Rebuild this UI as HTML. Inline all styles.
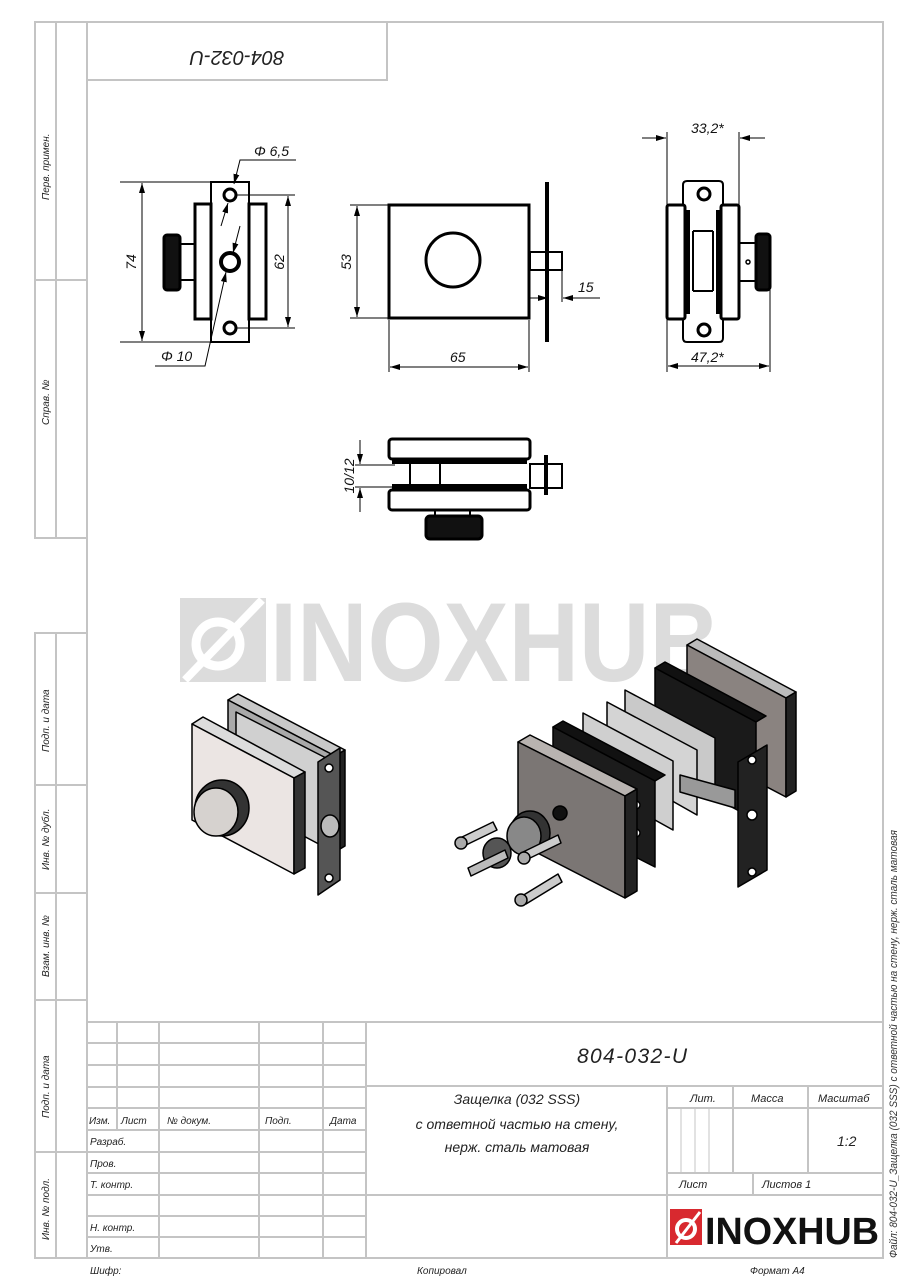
<!DOCTYPE html>
<html><head><meta charset="utf-8"><style>
html,body{margin:0;padding:0;background:#fff}
svg{display:block}
text{font-family:"Liberation Sans","DejaVu Sans",sans-serif;font-style:italic}
.up{font-style:normal}
</style></head><body>
<svg width="905" height="1280" viewBox="0 0 905 1280" xmlns="http://www.w3.org/2000/svg">
<defs>
<marker id="a" viewBox="0 0 10 6" refX="10" refY="3" markerWidth="10" markerHeight="6" orient="auto-start-reverse" markerUnits="userSpaceOnUse"><path d="M0,0 L10,3 L0,6 z" fill="#000"/></marker>
</defs>
<!-- FRAME -->
<g fill="none" stroke="#c4c4c4" stroke-width="2">
<rect x="87" y="22" width="796" height="1236"/>
<rect x="87" y="22" width="300" height="58"/>
<polyline points="87,22 35,22 35,538 87,538"/>
<line x1="56" y1="22" x2="56" y2="538"/>
<line x1="35" y1="280" x2="87" y2="280"/>
<polyline points="87,633 35,633 35,1258 87,1258"/>
<line x1="56" y1="633" x2="56" y2="1258"/>
<line x1="35" y1="785" x2="87" y2="785"/>
<line x1="35" y1="893" x2="87" y2="893"/>
<line x1="35" y1="1000" x2="87" y2="1000"/>
<line x1="35" y1="1152" x2="87" y2="1152"/>
<line x1="87" y1="1022" x2="883" y2="1022"/>
<line x1="117" y1="1022" x2="117" y2="1130"/>
<line x1="159" y1="1022" x2="159" y2="1258"/>
<line x1="259" y1="1022" x2="259" y2="1258"/>
<line x1="323" y1="1022" x2="323" y2="1258"/>
<line x1="366" y1="1022" x2="366" y2="1258"/>
<line x1="87" y1="1043" x2="366" y2="1043"/>
<line x1="87" y1="1065" x2="366" y2="1065"/>
<line x1="87" y1="1087" x2="366" y2="1087"/>
<line x1="87" y1="1108" x2="366" y2="1108"/>
<line x1="87" y1="1130" x2="366" y2="1130"/>
<line x1="87" y1="1152" x2="366" y2="1152"/>
<line x1="87" y1="1173" x2="366" y2="1173"/>
<line x1="87" y1="1195" x2="366" y2="1195"/>
<line x1="87" y1="1216" x2="366" y2="1216"/>
<line x1="87" y1="1237" x2="366" y2="1237"/>
<line x1="366" y1="1086" x2="883" y2="1086"/>
<line x1="366" y1="1195" x2="883" y2="1195"/>
<line x1="667" y1="1086" x2="667" y2="1258"/>
<line x1="733" y1="1086" x2="733" y2="1173"/>
<line x1="808" y1="1086" x2="808" y2="1173"/>
<line x1="667" y1="1108" x2="883" y2="1108"/>
<line x1="667" y1="1173" x2="883" y2="1173"/>
<line x1="753" y1="1173" x2="753" y2="1195"/>
<line x1="681" y1="1108" x2="681" y2="1173" stroke-width="1"/>
<line x1="695" y1="1108" x2="695" y2="1173" stroke-width="1"/>
<line x1="709" y1="1108" x2="709" y2="1173" stroke-width="1"/>
</g>
<g font-size="10" fill="#222">
<text transform="translate(49,200) rotate(-90)">Перв. примен.</text>
<text transform="translate(49,425) rotate(-90)">Справ. №</text>
<text transform="translate(49,752) rotate(-90)">Подп. и дата</text>
<text transform="translate(49,870) rotate(-90)">Инв. № дубл.</text>
<text transform="translate(49,977) rotate(-90)">Взам. инв. №</text>
<text transform="translate(49,1118) rotate(-90)">Подп. и дата</text>
<text transform="translate(49,1240) rotate(-90)">Инв. № подл.</text>
<text x="89" y="1124">Изм.</text><text x="121" y="1124">Лист</text><text x="167" y="1124">№ докум.</text><text x="265" y="1124">Подп.</text><text x="330" y="1124">Дата</text>
<text x="90" y="1145">Разраб.</text><text x="90" y="1167">Пров.</text><text x="90" y="1188">Т. контр.</text><text x="90" y="1231">Н. контр.</text><text x="90" y="1252">Утв.</text>
<text x="90" y="1274">Шифр:</text><text x="417" y="1274">Копировал</text><text x="750" y="1274">Формат А4</text>
<text x="690" y="1102" font-size="11">Лит.</text><text x="751" y="1102" font-size="11">Масса</text><text x="818" y="1102" font-size="11">Масштаб</text>
<text x="837" y="1146" font-size="14">1:2</text>
<text x="679" y="1188" font-size="11">Лист</text><text x="762" y="1188" font-size="11">Листов 1</text>
</g>
<text x="577" y="1063" font-size="21" fill="#222" textLength="110">804-032-U</text>
<g font-size="14" fill="#222" text-anchor="middle">
<text x="517" y="1104">Защелка (032 SSS)</text>
<text x="517" y="1129">с ответной частью на стену,</text>
<text x="517" y="1152">нерж. сталь матовая</text>
</g>
<text transform="translate(237,51) rotate(180)" font-size="20" fill="#222" text-anchor="middle">804-032-U</text>
<text transform="translate(897,1258) rotate(-90)" font-size="11" fill="#333" textLength="428" lengthAdjust="spacingAndGlyphs">Файл: 804-032-U_Защелка (032 SSS) с ответной частью на стену, нерж. сталь матовая</text>
<!-- bottom logo -->
<rect x="670" y="1209" width="32" height="36" fill="#d8292f"/>
<circle cx="686" cy="1229" r="9" fill="none" stroke="#fff" stroke-width="4"/>
<line x1="676" y1="1243" x2="700" y2="1212" stroke="#fff" stroke-width="3"/>
<text class="up" x="705" y="1244" font-size="38" font-weight="bold" fill="#111" textLength="174" lengthAdjust="spacingAndGlyphs">INOXHUB</text>
<!-- watermark -->
<g fill="#dcdcdc">
<rect x="180" y="598" width="86" height="84"/>
<circle cx="218" cy="644" r="22" fill="none" stroke="#fff" stroke-width="9"/>
<line x1="185" y1="680" x2="262" y2="600" stroke="#fff" stroke-width="8"/>
<text class="up" x="270" y="681" font-size="112" font-weight="bold" textLength="450" lengthAdjust="spacingAndGlyphs">INOXHUB</text>
</g>
<!-- ORTHO VIEWS -->
<g fill="none" stroke="#000" stroke-width="3">
<rect x="211" y="182" width="38" height="160" stroke-width="2"/>
<rect x="195" y="204" width="16" height="115"/>
<rect x="249" y="204" width="17" height="115"/>
<rect x="180" y="244" width="15" height="36" stroke-width="2"/>
<rect x="164" y="235" width="16" height="55" rx="3" fill="#111"/>
<circle cx="230" cy="195" r="6"/>
<circle cx="230" cy="262" r="9" stroke-width="4"/>
<circle cx="230" cy="328" r="6"/>
<rect x="389" y="205" width="140" height="113"/>
<circle cx="453" cy="260" r="27"/>
<line x1="547" y1="182" x2="547" y2="342" stroke-width="4"/>
<rect x="530" y="252" width="32" height="18" stroke-width="2"/>
<line x1="548" y1="252" x2="548" y2="270" stroke-width="2"/>
<path d="M683,205 V185 Q683,181 687,181 H719 Q723,181 723,185 V205 M683,319 V338 Q683,342 687,342 H719 Q723,342 723,338 V319" stroke-width="2"/>
<rect x="667" y="205" width="18" height="114" rx="2"/>
<rect x="721" y="205" width="18" height="114" rx="2"/>
<line x1="688" y1="210" x2="688" y2="314" stroke-width="4"/>
<line x1="718" y1="210" x2="718" y2="314" stroke-width="4"/>
<line x1="693" y1="231" x2="713" y2="231" stroke-width="2"/>
<line x1="693" y1="291" x2="713" y2="291" stroke-width="2"/>
<line x1="693" y1="231" x2="693" y2="291" stroke-width="2"/>
<line x1="713" y1="231" x2="713" y2="291" stroke-width="2"/>
<circle cx="704" cy="194" r="6" stroke-width="3"/>
<circle cx="704" cy="330" r="6" stroke-width="3"/>
<rect x="739" y="243" width="17" height="38" stroke-width="2"/>
<circle cx="748" cy="262" r="2" stroke-width="1.5"/>
<rect x="756" y="234" width="14" height="56" rx="3" fill="#111"/>
<rect x="389" y="439" width="141" height="20" rx="3"/>
<rect x="389" y="490" width="141" height="20" rx="3"/>
<rect x="392" y="458" width="135" height="6" fill="#000" stroke="none"/>
<rect x="392" y="484" width="135" height="6" fill="#000" stroke="none"/>
<line x1="410" y1="464" x2="410" y2="484" stroke-width="2"/>
<line x1="440" y1="464" x2="440" y2="484" stroke-width="2"/>
<rect x="530" y="464" width="32" height="24" stroke-width="2"/>
<line x1="546" y1="455" x2="546" y2="495" stroke-width="4"/>
<rect x="435" y="510" width="35" height="6" stroke-width="2"/>
<rect x="426" y="516" width="56" height="23" rx="4" fill="#111"/>
</g>
<g stroke="#000" stroke-width="1" fill="none">
<line x1="120" y1="182" x2="210" y2="182"/><line x1="120" y1="342" x2="210" y2="342"/>
<line x1="142" y1="183" x2="142" y2="341" marker-start="url(#a)" marker-end="url(#a)"/>
<line x1="236" y1="195" x2="295" y2="195"/><line x1="236" y1="328" x2="295" y2="328"/>
<line x1="288" y1="196" x2="288" y2="327" marker-start="url(#a)" marker-end="url(#a)"/>
<polyline points="296,160 240,160 234,184" marker-end="url(#a)"/>
<line x1="221" y1="226" x2="228" y2="203" marker-end="url(#a)"/>
<line x1="240" y1="226" x2="233" y2="253" marker-end="url(#a)"/>
<polyline points="155,366 205,366 226,272" marker-end="url(#a)"/>
<line x1="389" y1="205" x2="350" y2="205"/><line x1="389" y1="318" x2="350" y2="318"/>
<line x1="357" y1="206" x2="357" y2="317" marker-start="url(#a)" marker-end="url(#a)"/>
<line x1="389" y1="320" x2="389" y2="372"/><line x1="529" y1="320" x2="529" y2="372"/>
<line x1="390" y1="367" x2="528" y2="367" marker-start="url(#a)" marker-end="url(#a)"/>
<line x1="562" y1="270" x2="562" y2="302"/>
<line x1="530" y1="298" x2="548" y2="298" marker-end="url(#a)"/>
<line x1="600" y1="298" x2="563" y2="298" marker-end="url(#a)"/>
<line x1="667" y1="205" x2="667" y2="132"/><line x1="739" y1="205" x2="739" y2="132"/>
<line x1="642" y1="138" x2="666" y2="138" marker-end="url(#a)"/>
<line x1="765" y1="138" x2="740" y2="138" marker-end="url(#a)"/>
<line x1="667" y1="319" x2="667" y2="372"/><line x1="770" y1="290" x2="770" y2="372"/>
<line x1="668" y1="366" x2="769" y2="366" marker-start="url(#a)" marker-end="url(#a)"/>
<line x1="355" y1="465" x2="395" y2="465"/><line x1="355" y1="487" x2="395" y2="487"/>
<line x1="360" y1="440" x2="360" y2="464" marker-end="url(#a)"/>
<line x1="360" y1="512" x2="360" y2="488" marker-end="url(#a)"/>
</g>
<g font-size="14" fill="#111">
<text x="254" y="156">Φ 6,5</text>
<text x="161" y="361">Φ 10</text>
<text transform="translate(136,262) rotate(-90)" text-anchor="middle">74</text>
<text transform="translate(284,262) rotate(-90)" text-anchor="middle">62</text>
<text transform="translate(351,262) rotate(-90)" text-anchor="middle">53</text>
<text x="450" y="362">65</text>
<text x="578" y="292">15</text>
<text x="691" y="133">33,2*</text>
<text x="691" y="362">47,2*</text>
<text transform="translate(354,476) rotate(-90)" text-anchor="middle">10/12</text>
</g>
<!-- ISOMETRIC LEFT -->
<g stroke="#000" stroke-width="1.5" stroke-linejoin="round">
<polygon points="228,700 238,694 345,750 335,756" fill="#c8c8c8"/>
<polygon points="228,700 335,756 335,852 228,797" fill="#a9a9a9"/>
<polygon points="335,756 345,750 345,846 335,852" fill="#222"/>
<polygon points="236,712 330,760 330,850 236,800" fill="#d0d0d0"/>
<polygon points="318,762 340,748 340,880 318,895" fill="#555"/>
<circle cx="329" cy="768" r="4" fill="#fff"/><circle cx="329" cy="878" r="4" fill="#fff"/>
<ellipse cx="330" cy="826" rx="9" ry="11" fill="#bbb"/>
<polygon points="192,724 203,717 305,772 294,778" fill="#dcdcdc"/>
<polygon points="192,724 294,778 294,874 192,820" fill="#ebe5e3"/>
<polygon points="294,778 305,772 305,868 294,874" fill="#333"/>
<ellipse cx="222" cy="808" rx="27" ry="28" fill="#333"/>
<ellipse cx="216" cy="812" rx="22" ry="24" fill="#d6d2cf"/>
</g>
<!-- ISOMETRIC RIGHT -->
<g stroke="#000" stroke-width="1.5" stroke-linejoin="round">
<polygon points="687,645 697,639 796,692 786,698" fill="#bbb"/>
<polygon points="687,645 786,698 786,797 687,745" fill="#8a8380"/>
<polygon points="786,698 796,692 796,791 786,797" fill="#222"/>
<polygon points="655,668 665,662 766,716 756,722" fill="#111"/>
<polygon points="655,668 756,722 756,820 655,766" fill="#1a1a1a"/>
<polygon points="625,690 715,738 715,800 625,752" fill="#c9c9c9"/>
<polygon points="607,702 697,750 697,815 607,764" fill="#d4d4d4"/>
<polygon points="583,713 673,761 673,830 583,780" fill="#cfcfcf"/>
<polygon points="680,775 735,790 735,808 680,792" fill="#999"/>
<polygon points="553,727 563,721 665,775 655,781" fill="#111"/>
<polygon points="553,727 655,781 655,867 553,815" fill="#1c1c1c"/>
<circle cx="636" cy="805" r="4" fill="#fff"/><circle cx="636" cy="833" r="4" fill="#fff"/>
<polygon points="738,762 767,745 767,870 738,887" fill="#222"/>
<circle cx="752" cy="815" r="5" fill="#fff"/><circle cx="752" cy="872" r="4" fill="#fff"/><circle cx="752" cy="760" r="4" fill="#fff"/>
<polygon points="518,742 530,735 637,789 625,796" fill="#b8b3b0"/>
<polygon points="518,742 625,796 625,898 518,843" fill="#7b7674"/>
<polygon points="625,796 637,789 637,891 625,898" fill="#222"/>
<circle cx="560" cy="813" r="7" fill="#111"/>
<ellipse cx="530" cy="833" rx="20" ry="22" fill="#333"/>
<ellipse cx="524" cy="836" rx="17" ry="19" fill="#888"/>
<ellipse cx="497" cy="853" rx="14" ry="15" fill="#555"/>
<polygon points="468,868 505,850 508,858 471,876" fill="#bbb"/>
<polygon points="460,838 493,822 497,830 464,846" fill="#ccc"/>
<circle cx="461" cy="843" r="6" fill="#aaa"/>
<polygon points="523,852 558,835 561,843 526,860" fill="#ccc"/>
<circle cx="524" cy="858" r="6" fill="#aaa"/>
<polygon points="522,896 558,874 562,882 526,904" fill="#ccc"/>
<circle cx="521" cy="900" r="6" fill="#aaa"/>
</g>
</svg>
</body></html>
